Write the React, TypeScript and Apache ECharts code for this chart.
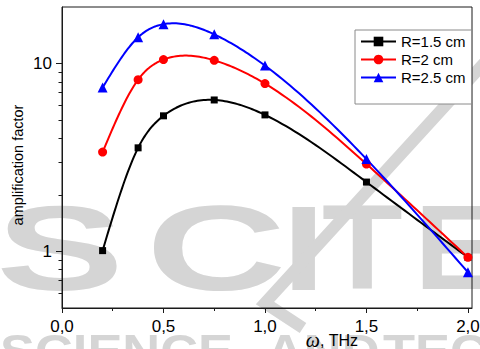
import React, { useEffect, useRef } from 'react';
import * as echarts from 'echarts';

// Frequency (THz) and amplification factor values
const omega = [0.2, 0.375, 0.5, 0.75, 1.0, 1.5, 2.0];
const ampR15 = [1.01, 3.56, 5.27, 6.4, 5.33, 2.34, 0.93];
const ampR2 = [3.38, 8.21, 10.5, 10.4, 7.82, 2.92, 0.93];
const ampR25 = [7.45, 13.8, 16.2, 14.3, 9.75, 3.1, 0.775];
const seriesNames = ['R=1.5 cm', 'R=2 cm', 'R=2.5 cm'];
const seriesColors = ['#000000', '#ff0000', '#0000ff'];

const xMajorTicks = [0, 0.5, 1.0, 1.5, 2.0];
const xMinorTicks = [0.25, 0.75, 1.25, 1.75];
const yMajorTicks = [1, 10];
const yMinorTicks = [0.6, 0.7, 0.8, 0.9, 2, 3, 4, 5, 6, 7, 8, 9];

const FONT = 'Liberation Sans, Arial, sans-serif';
const AXIS_COLOR = '#1a1a1a';
const WM = '#d5d5d5';

function pairs(xs: number[], ys: number[]) {
  return xs.map((x, i) => [x, ys[i]]);
}

// Natural cubic spline through pixel points (x increasing), sampled
function splinePoints(pts: number[][], perSeg: number): number[][] {
  const n = pts.length;
  const x = pts.map((p) => p[0]);
  const y = pts.map((p) => p[1]);
  const h: number[] = [];
  for (let i = 0; i < n - 1; i++) h.push(x[i + 1] - x[i]);
  const M = new Array(n).fill(0);
  if (n > 2) {
    const a: number[] = [], b: number[] = [], c: number[] = [], d: number[] = [];
    for (let i = 1; i < n - 1; i++) {
      a.push(h[i - 1]);
      b.push(2 * (h[i - 1] + h[i]));
      c.push(h[i]);
      d.push(6 * ((y[i + 1] - y[i]) / h[i] - (y[i] - y[i - 1]) / h[i - 1]));
    }
    const m = b.length;
    for (let i = 1; i < m; i++) {
      const w = a[i] / b[i - 1];
      b[i] -= w * c[i - 1];
      d[i] -= w * d[i - 1];
    }
    const sol = new Array(m).fill(0);
    sol[m - 1] = d[m - 1] / b[m - 1];
    for (let i = m - 2; i >= 0; i--) sol[i] = (d[i] - c[i] * sol[i + 1]) / b[i];
    for (let i = 0; i < m; i++) M[i + 1] = sol[i];
  }
  const out: number[][] = [];
  for (let i = 0; i < n - 1; i++) {
    const hi = h[i];
    for (let k = 0; k < perSeg; k++) {
      const t = x[i] + (hi * k) / perSeg;
      const A = x[i + 1] - t;
      const B = t - x[i];
      const v =
        (M[i] * A * A * A) / (6 * hi) +
        (M[i + 1] * B * B * B) / (6 * hi) +
        (y[i] - (M[i] * hi * hi) / 6) * (A / hi) +
        (y[i + 1] - (M[i + 1] * hi * hi) / 6) * (B / hi);
      out.push([t, v]);
    }
  }
  out.push([x[n - 1], y[n - 1]]);
  return out;
}

export default function App() {
  const ref = useRef<HTMLDivElement>(null);

  useEffect(() => {
    if (!ref.current) return;
    const chart = echarts.init(ref.current, undefined, { renderer: 'svg' });

    const wmLetter = (ch: string, x: number, sx: number) => ({
      type: 'text',
      z: -100,
      x,
      y: 248,
      scaleX: sx,
      silent: true,
      style: {
        text: ch,
        fill: WM,
        font: 'bold 120px Liberation Sans, Arial, sans-serif',
        textAlign: 'left',
        textVerticalAlign: 'middle',
      },
    });
    const wmSmall = (t: string, x: number) => ({
      type: 'text',
      z: -100,
      x,
      y: 351,
      scaleX: 1.14,
      silent: true,
      style: {
        text: t,
        fill: WM,
        font: 'bold 46px Liberation Sans, Arial, sans-serif',
        textAlign: 'left',
        textVerticalAlign: 'middle',
      },
    });

    const allY = [ampR15, ampR2, ampR25];

    const curveSeries = allY.map((ys, si) => ({
      type: 'custom',
      name: seriesNames[si] + ' curve',
      xAxisIndex: 0,
      yAxisIndex: 0,
      z: 4,
      silent: true,
      data: pairs(omega, ys),
      renderItem: (params: any, api: any) => {
        if (params.dataIndex !== 0) return null;
        const px = omega.map((x, i) => api.coord([x, ys[i]]));
        const pts = splinePoints(px, 24);
        return {
          type: 'polyline',
          shape: { points: pts },
          style: { stroke: seriesColors[si], lineWidth: 2, fill: null, lineJoin: 'round' },
        };
      },
    }));

    const symbolSeries = allY.map((ys, si) => ({
      type: 'line',
      name: seriesNames[si],
      xAxisIndex: 0,
      yAxisIndex: 0,
      z: 5,
      data: pairs(omega, ys),
      color: seriesColors[si],
      symbol: ['rect', 'circle', 'triangle'][si],
      symbolSize: [7, 9, 10][si],
      lineStyle: { width: 2, opacity: 0 },
    }));

    chart.setOption({
      animation: false,
      backgroundColor: '#fff',
      grid: {
        left: 62,
        right: 8,
        top: 7,
        bottom: 41,
        containLabel: false,
        outerBoundsMode: 'none',
        show: true,
        borderColor: AXIS_COLOR,
        borderWidth: 1,
        backgroundColor: 'transparent',
      },
      legend: {
        orient: 'vertical',
        left: 355,
        top: 30,
        itemWidth: 35,
        itemHeight: 12,
        itemGap: 3,
        padding: [4, 6, 19, 5],
        borderColor: '#8a8a8a',
        borderWidth: 1,
        backgroundColor: '#fff',
        textStyle: { fontSize: 15, color: '#000', fontFamily: FONT },
        data: seriesNames.map((n, i) => ({
          name: n,
          lineStyle: { width: 2, color: seriesColors[i], opacity: 1 },
        })),
      },
      xAxis: [
        {
          type: 'value',
          min: 0,
          max: 2.02,
          position: 'bottom',
          axisLine: { show: true, lineStyle: { color: AXIS_COLOR, width: 1 } },
          axisTick: { show: true, customValues: xMajorTicks, length: 5, lineStyle: { color: AXIS_COLOR } },
          axisLabel: {
            customValues: xMajorTicks,
            formatter: (v: number) => v.toFixed(1).replace('.', ','),
            margin: 10,
            fontSize: 17,
            color: '#000',
            fontFamily: FONT,
          },
          splitLine: { show: false },
          name: '{w|ω}, THz',
          nameLocation: 'middle',
          nameGap: 22,
          nameMoveOverlap: false,
          nameTextStyle: {
            fontSize: 16,
            color: '#000',
            fontFamily: FONT,
            padding: [0, 0, 0, 130],
            rich: {
              w: { fontFamily: 'Liberation Serif, DejaVu Serif, serif', fontStyle: 'italic', fontSize: 20, color: '#000' },
            },
          },
        },
        {
          type: 'value',
          min: 0,
          max: 2.02,
          position: 'bottom',
          offset: 0,
          axisLine: { show: false },
          axisTick: { show: true, customValues: xMinorTicks, length: 3, lineStyle: { color: AXIS_COLOR } },
          axisLabel: { show: false },
          splitLine: { show: false },
        },
      ],
      yAxis: [
        {
          type: 'log',
          logBase: 10,
          min: 0.5,
          max: 20,
          position: 'left',
          axisLine: { show: true, lineStyle: { color: AXIS_COLOR, width: 1 } },
          axisTick: { show: true, customValues: yMajorTicks, length: 6, lineStyle: { color: AXIS_COLOR } },
          axisLabel: {
            customValues: yMajorTicks,
            formatter: (v: number) => String(Math.round(v)),
            margin: 10,
            fontSize: 17,
            color: '#000',
            fontFamily: FONT,
          },
          splitLine: { show: false },
          minorTick: { show: false },
          name: 'amplification factor',
          nameLocation: 'middle',
          nameGap: 37,
          nameMoveOverlap: false,
          nameTextStyle: { fontSize: 14.5, color: '#000', fontFamily: FONT, padding: [0, 15, 0, 0] },
        },
        {
          type: 'log',
          logBase: 10,
          min: 0.5,
          max: 20,
          position: 'left',
          offset: 0,
          axisLine: { show: false },
          axisTick: { show: true, customValues: yMinorTicks, length: 3.5, lineStyle: { color: AXIS_COLOR } },
          axisLabel: { show: false },
          splitLine: { show: false },
        },
      ],
      series: [...curveSeries, ...symbolSeries],
      graphic: {
        elements: [
          wmLetter('S', -4, 1.6),
          wmLetter('C', 146, 1.62),
          wmLetter('I', 282, 1.3),
          wmLetter('T', 322, 1.1),
          wmLetter('E', 414, 1.1),
          wmSmall('SCIENCE', 0),
          wmSmall('AND', 266),
          wmSmall('TEC', 383),
          {
            type: 'polyline',
            z: -99,
            silent: true,
            shape: { points: [[498, 48], [265, 303], [303, 328]] },
            style: { stroke: WM, lineWidth: 12, fill: null },
          },
        ],
      },
    });

    return () => {
      chart.dispose();
    };
  }, []);

  return (
    <div
      ref={ref}
      style={{ position: 'fixed', left: 0, top: 0, width: 480, height: 349 }}
    />
  );
}
